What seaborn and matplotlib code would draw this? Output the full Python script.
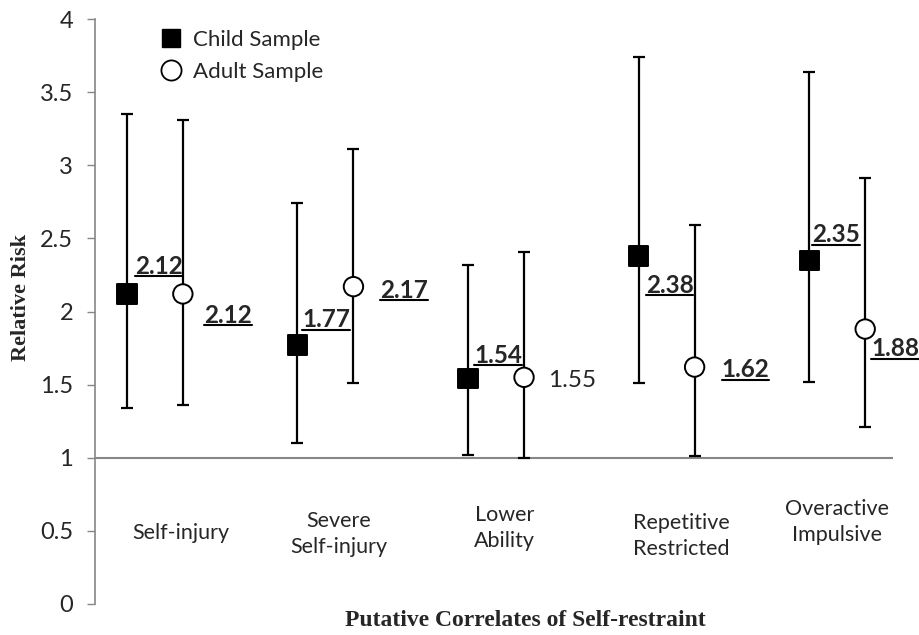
import numpy as np
import pandas as pd
import matplotlib
matplotlib.use("Agg")
import matplotlib.pyplot as plt
import seaborn as sns
from matplotlib.lines import Line2D

# ---------------- data ----------------
categories = ["Self-injury", "Severe\nSelf-injury", "Lower\nAbility",
              "Repetitive\nRestricted", "Overactive\nImpulsive"]
child_rr = [2.12, 1.77, 1.54, 2.38, 2.35]
child_lo = [1.34, 1.10, 1.02, 1.51, 1.52]
child_hi = [3.35, 2.74, 2.32, 3.74, 3.64]
adult_rr = [2.12, 2.17, 1.55, 1.62, 1.88]
adult_lo = [1.36, 1.51, 1.00, 1.01, 1.21]
adult_hi = [3.31, 3.11, 2.41, 2.59, 2.91]
child_bold = [True, True, True, True, True]
adult_bold = [True, True, False, True, True]
y_ticks = [0, 0.5, 1, 1.5, 2, 2.5, 3, 3.5, 4]
y_ticklabels = ["0", "0.5", "1", "1.5", "2", "2.5", "3", "3.5", "4"]

# ---------------- layout / style ----------------
child_off, adult_off = -0.165, 0.163
child_lbl_off = [(8, 20), (5, 18), (6, 16), (7, -37), (3, 18)]      # px (dx, dy up)
adult_lbl_off = [(21, -29), (27, -11), (24, -10), (27, -10), (6, -27)]
cat_lbl_pos = [(0.152, 0.485), (1.076, 0.48), (2.051, 0.52), (3.083, 0.465), (3.998, 0.56)]
GRAY = "#868686"

sns.set_theme(style="white")
plt.rcParams['font.family'] = ['Lato', 'DejaVu Sans']

fig = plt.figure(figsize=(9.2, 6.35), dpi=100)
ax = fig.add_axes([95/920, 31/635, 798/920, 585/635])

idx = np.arange(len(categories))
df = pd.DataFrame({
    "x": np.concatenate([idx + child_off, idx + adult_off]),
    "rr": child_rr + adult_rr,
    "lo": child_lo + adult_lo,
    "hi": child_hi + adult_hi,
    "group": ["Child Sample"] * 5 + ["Adult Sample"] * 5,
})

ax.axhline(1, color=GRAY, lw=1.5, zorder=1)
ax.errorbar(df["x"], df["rr"], yerr=[df["rr"] - df["lo"], df["hi"] - df["rr"]],
            fmt="none", ecolor="black", elinewidth=1.6, capsize=4.2, capthick=1.6, zorder=2)
sns.scatterplot(data=df, x="x", y="rr", hue="group", style="group",
                palette={"Child Sample": "black", "Adult Sample": "white"},
                markers={"Child Sample": "s", "Adult Sample": "o"},
                s=195, edgecolor="black", linewidth=1.4, legend=False, zorder=3, ax=ax)

ax.set_xlim(-0.352, 4.326)
ax.set_ylim(0, 4)
ax.set_xticks([])
ax.set_yticks(y_ticks)
ax.set_yticklabels(y_ticklabels, fontsize=17)
ax.tick_params(axis="y", length=5.8, width=1, color=GRAY, pad=10, left=True, direction="out")
ax.set_xlabel("")
ax.set_ylabel("")
for s in ["top", "right", "bottom"]:
    ax.spines[s].set_visible(False)
ax.spines["left"].set_color(GRAY)
ax.spines["left"].set_linewidth(1.2)

for (cx, cy), lab in zip(cat_lbl_pos, categories):
    ax.text(cx, cy, lab, ha="center", va="center", fontsize=15.5, linespacing=1.4)

# value labels
texts = []
def add_lbl(x, y, val, off, bold):
    t = ax.annotate(f"{val:.2f}", (x, y), xytext=(off[0]*0.72, off[1]*0.72),
                    textcoords="offset points", ha="left", va="baseline",
                    fontsize=17.5, fontweight="bold" if bold else "normal",
                    annotation_clip=False, zorder=4)
    texts.append((t, x, y, off, bold))

for i in range(5):
    add_lbl(i + child_off, child_rr[i], child_rr[i], child_lbl_off[i], child_bold[i])
    add_lbl(i + adult_off, adult_rr[i], adult_rr[i], adult_lbl_off[i], adult_bold[i])

# legend
handles = [Line2D([], [], marker="s", ls="", color="black", markersize=13),
           Line2D([], [], marker="o", ls="", markerfacecolor="white",
                  markeredgecolor="black", markeredgewidth=1.3, markersize=14.5)]
ax.legend(handles, ["Child Sample", "Adult Sample"], loc="upper left",
          bbox_to_anchor=(0.081, 0.982), frameon=False, fontsize=16,
          handlelength=1.0, handletextpad=0.5, labelspacing=0.55, borderpad=0,
          borderaxespad=0)

fig.text(21/920, (635-297)/635, "Relative Risk", rotation=90, ha="center", va="center",
         fontsize=16, fontweight="bold", family="Liberation Serif")
fig.text(525/920, (635-620)/635, "Putative Correlates of Self-restraint", ha="center",
         va="center", fontsize=17, fontweight="bold", family="Liberation Serif")

# underlines beneath the bold labels
fig.canvas.draw()
r = fig.canvas.get_renderer()
inv = fig.transFigure.inverted()
for t, x, y, off, bold in texts:
    if not bold:
        continue
    bb = t.get_window_extent(r)
    px, py = ax.transData.transform((x, y))
    yb = py + off[1] - 2.5
    (x0, y0) = inv.transform((bb.x0, yb))
    (x1, _) = inv.transform((bb.x1, yb))
    fig.add_artist(Line2D([x0, x1], [y0, y0], color="black", lw=1.5, transform=fig.transFigure))

fig.savefig("out.png", dpi=100)
